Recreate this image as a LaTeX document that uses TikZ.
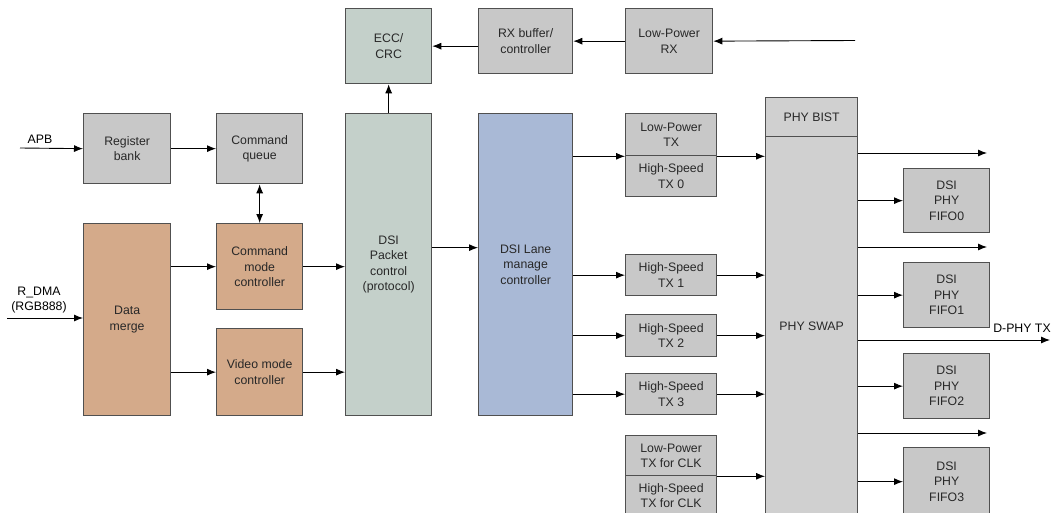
\documentclass[tikz,border=0pt]{standalone}
\usepackage{fontspec}
\setmainfont{Liberation Sans}
\usepackage{tikz}
\usetikzlibrary{positioning,arrows.meta}
\definecolor{blk-gray}{RGB}{200,200,200}
\definecolor{blk-green}{RGB}{196,208,202}
\definecolor{blk-blue}{RGB}{169,185,214}
\definecolor{blk-tan}{RGB}{212,170,138}
\definecolor{blk-edge}{RGB}{80,80,80}
\definecolor{blk-text}{RGB}{40,40,40}

\begin{document}
\begin{tikzpicture}[x=1pt,y=-1pt,
    font=\fontsize{12.3}{15.5}\selectfont,
    box/.style={draw=blk-edge, line width=1.3pt, fill=blk-gray, text=blk-text,
        align=center, inner sep=0pt, anchor=north west},
    arr/.style={-{Latex[length=9pt,width=7pt]}, line width=0.9pt},
    darr/.style={{Latex[length=9pt,width=7pt]}-{Latex[length=9pt,width=7pt]}, line width=0.9pt}]
    \useasboundingbox (0,0) rectangle (1056,513);

    % top row
    \node[box, fill=blk-green, minimum width=86, minimum height=75] (ecc) at (345,8) {ECC/\\CRC};
    \node[box, minimum width=94, minimum height=65] (rxbuf) at (478,8) {RX buffer/\\controller};
    \node[box, minimum width=87, minimum height=65] (lprx) at (625,8) {Low-Power\\RX};
    \coordinate (rxin) at (855,40.5);

    % register path
    \node[box, minimum width=87, minimum height=70] (reg) at (83,113) {Register\\bank};
    \node[box, minimum width=86, minimum height=70] (cmdq) at (216,113) {Command\\queue};
    \coordinate (apb) at (20,148);
    \node (apblbl) at (40,139) {APB};

    % pixel data path
    \node[box, fill=blk-tan, minimum width=87, minimum height=192] (merge) at (83,223) {Data\\merge};
    \node[box, fill=blk-tan, minimum width=86, minimum height=86] (cmdmode) at (216,223) {Command\\mode\\controller};
    \node[box, fill=blk-tan, minimum width=86, minimum height=87] (vidmode) at (216,328) {Video mode\\controller};
    \coordinate (rdma) at (7,318);
    \node[align=center] (rdmalbl) at (39,300) {R\_DMA\\(RGB888)};

    % protocol and lanes
    \node[box, fill=blk-green, minimum width=86, minimum height=302] (packet) at (345,113) {DSI\\Packet\\control\\(protocol)};
    \node[box, fill=blk-blue, minimum width=94, minimum height=302] (lane) at (478,113) {DSI Lane\\manage\\controller};

    \node[box, minimum width=91, minimum height=42] (lptx) at (625,113) {Low-Power\\TX};
    \node[box, minimum width=91, minimum height=41] (hstx0) at (625,155) {High-Speed\\TX 0};
    \node[box, minimum width=91, minimum height=41] (hstx1) at (625,254) {High-Speed\\TX 1};
    \node[box, minimum width=91, minimum height=42] (hstx2) at (625,314) {High-Speed\\TX 2};
    \node[box, minimum width=91, minimum height=41] (hstx3) at (625,373) {High-Speed\\TX 3};
    \node[box, minimum width=91, minimum height=40] (lpclk) at (625,435) {Low-Power\\TX for CLK};
    \node[box, minimum width=91, minimum height=40] (hsclk) at (625,475) {High-Speed\\TX for CLK};

    % PHY
    \node[box, fill=blk-gray!85!white, minimum width=92, minimum height=39] (bist) at (765,97) {PHY BIST};
    \node[box, fill=blk-gray!85!white, minimum width=92, minimum height=380] (swap) at (765,136) {PHY SWAP};

    \node[box, minimum width=86, minimum height=64] (fifo0) at (903,168) {DSI\\PHY\\FIFO0};
    \node[box, minimum width=86, minimum height=65] (fifo1) at (903,262) {DSI\\PHY\\FIFO1};
    \node[box, minimum width=86, minimum height=65] (fifo2) at (903,353) {DSI\\PHY\\FIFO2};
    \node[box, minimum width=86, minimum height=68] (fifo3) at (903,447) {DSI\\PHY\\FIFO3};

    \coordinate (out0) at (987,153);
    \coordinate (out1) at (987,247);
    \coordinate (dphy) at (1050,340);
    \coordinate (out2) at (987,433);
    \node[anchor=south] (dphylbl) at (1022,336) {D-PHY TX};

    % connectors
    \draw[arr] (rxin) -- (lprx.east);
    \draw[arr] (lprx.west) -- (rxbuf.east);
    \draw[arr] (ecc.east -| rxbuf.west) -- (ecc.east);
    \draw[arr] (packet.north) -- (ecc.south);

    \draw[arr] (apb) -- (reg.west);
    \draw[arr] (reg.east) -- (cmdq.west);
    \draw[darr] (cmdq.south) -- (cmdmode.north);

    \draw[arr] (rdma) -- (rdma -| merge.west);
    \draw[arr] (cmdmode.west -| merge.east) -- (cmdmode.west);
    \draw[arr] (vidmode.west -| merge.east) -- (vidmode.west);
    \draw[arr] (cmdmode.east) -- (cmdmode.east -| packet.west);
    \draw[arr] (vidmode.east) -- (vidmode.east -| packet.west);
    \draw[arr] ([yshift=17pt]packet.east) -- ([yshift=17pt]packet.east -| lane.west);

    \draw[arr] (lptx.south west -| lane.east) -- (lptx.south west);
    \draw[arr] (hstx1.west -| lane.east) -- (hstx1.west);
    \draw[arr] (hstx2.west -| lane.east) -- (hstx2.west);
    \draw[arr] (hstx3.west -| lane.east) -- (hstx3.west);

    \draw[arr] (lptx.south east) -- (lptx.south east -| swap.west);
    \draw[arr] (hstx1.east) -- (hstx1.east -| swap.west);
    \draw[arr] (hstx2.east) -- (hstx2.east -| swap.west);
    \draw[arr] (hstx3.east) -- (hstx3.east -| swap.west);
    \draw[arr] (lpclk.south east) -- (lpclk.south east -| swap.west);

    \draw[arr] (out0 -| swap.east) -- (out0);
    \draw[arr] (out1 -| swap.east) -- (out1);
    \draw[arr] (dphy -| swap.east) -- (dphy);
    \draw[arr] (out2 -| swap.east) -- (out2);
    \draw[arr] (fifo0.west -| swap.east) -- (fifo0.west);
    \draw[arr] (fifo1.west -| swap.east) -- (fifo1.west);
    \draw[arr] (fifo2.west -| swap.east) -- (fifo2.west);
    \draw[arr] (fifo3.west -| swap.east) -- (fifo3.west);
\end{tikzpicture}
\end{document}
